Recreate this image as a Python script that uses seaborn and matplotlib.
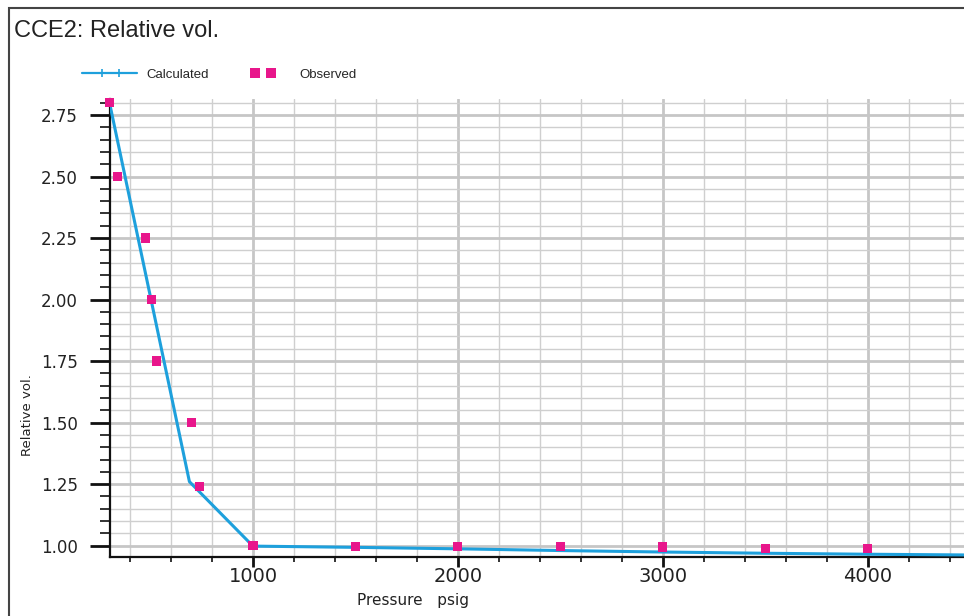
import matplotlib
matplotlib.use("Agg")
import matplotlib.pyplot as plt
import numpy as np
from matplotlib.lines import Line2D
from matplotlib.patches import Rectangle
from matplotlib.legend_handler import HandlerBase
from matplotlib.ticker import MultipleLocator, FormatStrFormatter
import seaborn as sns
import pandas as pd

# Calculated relative volume (model curve)
calc_pressure = [300, 690, 1000, 1500, 2000, 2500, 3000, 3500, 4000, 4500]
calc_relvol = [2.80, 1.26, 0.998, 0.993, 0.987, 0.980, 0.974, 0.969, 0.965, 0.962]

# Observed relative volume (lab data)
obs_pressure = [300, 340, 475, 505, 530, 700, 740, 1000, 1500, 2000, 2500, 3000, 3500, 4000]
obs_relvol = [2.80, 2.50, 2.25, 2.00, 1.75, 1.50, 1.24, 1.00, 0.996, 0.996, 0.995, 0.994, 0.988, 0.988]

title = "CCE2: Relative vol."
x_label = "Pressure   psig"
y_label = "Relative vol."
legend_labels = ["Calculated", "Observed"]

calc_df = pd.DataFrame({"pressure": calc_pressure, "relvol": calc_relvol})
obs_df = pd.DataFrame({"pressure": obs_pressure, "relvol": obs_relvol})

sns.set_style("white")
plt.rcParams["font.family"] = ["DejaVu Sans"]

LINE_C = "#1ea0dc"
OBS_C = "#e8168b"
W, H = 964, 616


class InnerMarkerHandler(HandlerBase):
    """Legend key: optional line across the handle plus two markers inside it."""

    def create_artists(self, legend, orig_handle, xdescent, ydescent,
                       width, height, fontsize, trans):
        y = (height - ydescent) / 2
        x0, x1 = -xdescent, -xdescent + width
        artists = []
        if orig_handle.get_linestyle() not in ("None", "none", ""):
            line = Line2D([x0, x1], [y, y], color=orig_handle.get_color(),
                          linewidth=orig_handle.get_linewidth())
            line.set_transform(trans)
            artists.append(line)
        mx = x0 + width * np.array([0.37, 0.67])
        marks = Line2D(mx, [y, y], linestyle="none",
                       marker=orig_handle.get_marker(),
                       markersize=orig_handle.get_markersize(),
                       markeredgewidth=orig_handle.get_markeredgewidth(),
                       color=orig_handle.get_color())
        marks.set_transform(trans)
        artists.append(marks)
        return artists


fig = plt.figure(figsize=(W / 100, H / 100), dpi=100)
ax = fig.add_axes([109.5 / W, 1 - 556.7 / H, (W - 109.5) / W, (556.7 - 99) / H])

sns.lineplot(data=calc_df, x="pressure", y="relvol", ax=ax, color=LINE_C,
             linewidth=2.2, sort=False, estimator=None, zorder=3)
sns.scatterplot(data=obs_df, x="pressure", y="relvol", ax=ax, marker="s",
                s=44, color=OBS_C, edgecolor="none", linewidth=0, zorder=4,
                clip_on=False)

ax.set_xlim(300, 4470)
ax.set_ylim(0.955, 2.815)

ax.xaxis.set_major_locator(MultipleLocator(1000))
ax.xaxis.set_minor_locator(MultipleLocator(200))
ax.yaxis.set_major_locator(MultipleLocator(0.25))
ax.yaxis.set_minor_locator(MultipleLocator(0.05))
ax.yaxis.set_major_formatter(FormatStrFormatter("%.2f"))
ax.xaxis.set_major_formatter(FormatStrFormatter("%d"))

ax.set_axisbelow(True)
ax.grid(which="major", color="#c6c6c6", linewidth=2.0)
ax.grid(which="minor", color="#cfcfcf", linewidth=1.0)

for side in ("top", "right"):
    ax.spines[side].set_visible(False)
for side in ("left", "bottom"):
    ax.spines[side].set_color("#111111")
    ax.spines[side].set_linewidth(1.6)

ax.tick_params(axis="y", which="major", direction="out", length=14.4, width=2.0,
               color="#111111", pad=8.5, labelsize=12, labelcolor="#222222", left=True)
ax.tick_params(axis="y", which="minor", direction="out", length=7.2, width=1.2,
               color="#111111", left=True)
ax.tick_params(axis="x", which="major", direction="out", length=7.2, width=2.0,
               color="#111111", pad=0.5, labelsize=14, labelcolor="#222222", bottom=True)
ax.tick_params(axis="x", which="minor", direction="out", length=3.6, width=1.2,
               color="#111111", bottom=True)

ax.set_xlabel(x_label, fontsize=11, color="#222222", va="center")
ax.set_ylabel(y_label, fontsize=9.5, color="#222222", va="center")
ax.xaxis.set_label_coords((413 - 109.5) / (W - 109.5), (556.7 - 600) / (556.7 - 99))
ax.yaxis.set_label_coords((28 - 109.5) / (W - 109.5), (556.7 - 415) / (556.7 - 99))

# Legend proxies: line with two cross ticks, and a pair of squares
calc_handle = Line2D([], [], color=LINE_C, linewidth=1.6, marker="|",
                     markersize=6, markeredgewidth=1.2)
obs_handle = Line2D([], [], color=OBS_C, linestyle="none", marker="s",
                    markersize=6.5, markeredgewidth=0)
fig.legend([calc_handle, obs_handle], legend_labels, loc="center left",
           bbox_to_anchor=(82 / W, 1 - 75 / H), ncol=2, frameon=False,
           handlelength=4.15, handletextpad=0.76, columnspacing=1.9,
           borderpad=0, borderaxespad=0,
           handler_map={Line2D: InnerMarkerHandler()},
           prop={"family": "Liberation Sans", "size": 9.5})

fig.text(14 / W, 1 - 37 / H, title, fontsize=17, family="Liberation Sans",
         color="#222222", va="baseline", ha="left")

# Window frame along the top and left edges
fig.patches.append(Rectangle((9 / W, -0.1), 1.2, 1 - 8 / H + 0.1,
                             transform=fig.transFigure, fill=False,
                             edgecolor="#444444", linewidth=1.5))

fig.savefig("out.png", dpi=100)
